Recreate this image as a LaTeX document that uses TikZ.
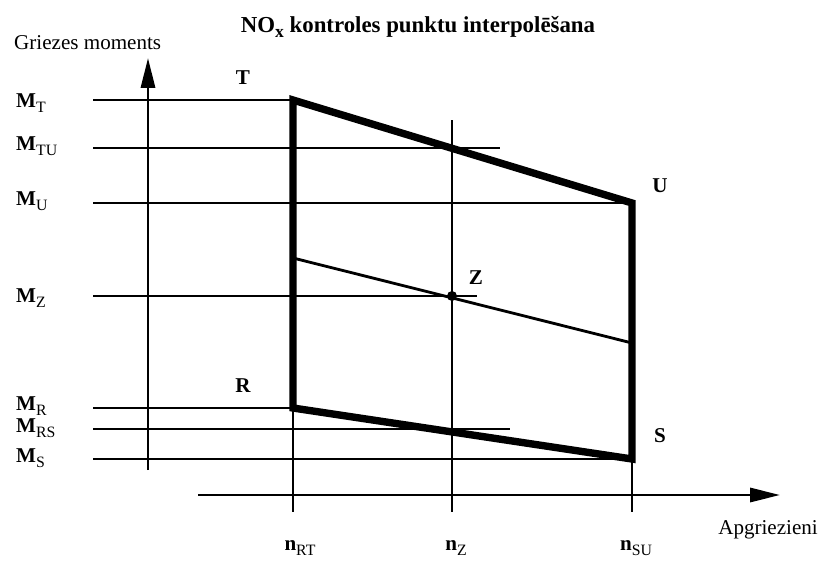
\documentclass[tikz,border=0pt]{standalone}
\usepackage{fontspec}
\setmainfont{Liberation Serif}
\usetikzlibrary{arrows.meta}
\newcommand{\lblsize}{\fontsize{12}{14}\selectfont}
\newcommand{\lsub}[1]{\raisebox{-0.45ex}{\fontsize{9}{10}\selectfont\mdseries #1}}
\tikzset{
  >={Triangle[length=17pt,width=8pt]},
  thinline/.style={line width=1.6pt},
  thickline/.style={line width=4.2pt, line join=miter},
  mlabel/.style={anchor=west, font=\lblsize\bfseries},
  plabel/.style={font=\lblsize\bfseries},
}

\begin{document}
\begin{tikzpicture}[x=0.02cm, y=-0.02cm, font=\lblsize]
    \useasboundingbox (0,0) rectangle (825,561);
    % Punkti
    \coordinate (T)  at (293,100);
    \coordinate (U)  at (632,203);
    \coordinate (R)  at (293,408);
    \coordinate (S)  at (632,459);
    \coordinate (Z)  at (452,296);
    \coordinate (zl) at (293,258);
    \coordinate (zr) at (632,343);
    % Asis
    \coordinate (yb) at (148,470);
    \coordinate (yt) at (148,58);
    \coordinate (xl) at (198,495);
    \coordinate (xr) at (780,495);
    % Teksti
    \node[font=\fontsize{13}{15}\selectfont\bfseries] (title) at (418,27)
      {NO\raisebox{-0.45ex}{\fontsize{10}{11}\selectfont x} kontroles punktu interpolēšana};
    \node[anchor=west] (ylab) at (8,43) {Griezes moments};
    \node[anchor=east] (xlab) at (824,530) {Apgriezieni};
    \node[mlabel] (mT)  at (10,103) {M\lsub{T}};
    \node[mlabel] (mTU) at (10,146) {M\lsub{TU}};
    \node[mlabel] (mU)  at (10,201) {M\lsub{U}};
    \node[mlabel] (mZ)  at (10,298) {M\lsub{Z}};
    \node[mlabel] (mR)  at (10,406) {M\lsub{R}};
    \node[mlabel] (mRS) at (10,428) {M\lsub{RS}};
    \node[mlabel] (mS)  at (10,458) {M\lsub{S}};
    \node[plabel] (nRT) at (300,548) {n\lsub{RT}};
    \node[plabel] (nZ)  at (456,548) {n\lsub{Z}};
    \node[plabel] (nSU) at (636,548) {n\lsub{SU}};
    \node[plabel] (lT) at (243,78)  {T};
    \node[plabel] (lU) at (660,186) {U};
    \node[plabel] (lZ) at (476,278) {Z};
    \node[plabel] (lR) at (243,386) {R};
    \node[plabel] (lS) at (660,436) {S};
    % Asis ar bultam
    \draw[thinline, ->] (yb) -- (yt);
    \draw[thinline, ->] (xl) -- (xr);
    % Horizontalas linijas
    \draw[thinline] (93,100) -- (T);
    \draw[thinline] (93,148) -- (500,148);
    \draw[thinline] (93,203) -- (U);
    \draw[thinline] (93,296) -- (477,296);
    \draw[thinline] (93,408) -- (R);
    \draw[thinline] (93,429) -- (510,429);
    \draw[thinline] (93,459) -- (S);
    % Vertikalas linijas
    \draw[thinline] (R) -- (293,512);
    \draw[thinline] (452,120) -- (452,512);
    \draw[thinline] (S) -- (632,512);
    % Interpolacija
    \draw[thinline] (zl) -- (zr);
    \fill (Z) circle (5);
    \draw[thickline] (T) -- (U) -- (S) -- (R) -- cycle;
\end{tikzpicture}
\end{document}
